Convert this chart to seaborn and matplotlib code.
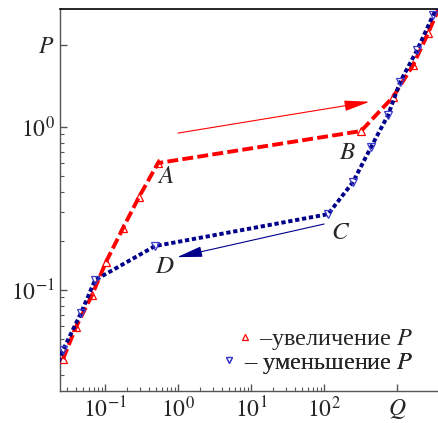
#%% import libraries
import numpy as np
import pandas as pd
import seaborn as sns
import matplotlib.pyplot as plt
from matplotlib.lines import Line2D
from matplotlib.ticker import FixedLocator, NullFormatter

#%% data
# increasing P (red, triangles up)
up_q = [0.0266, 0.0401, 0.0664, 0.1032, 0.1766, 0.292, 0.532, 321, 881, 1656, 2661, 3980]
up_p = [0.0377, 0.0593, 0.0931, 0.1486, 0.240, 0.372, 0.601, 0.945, 1.53, 2.40, 3.77, 5.75]

# decreasing P (blue, triangles down)
down_q = [0.0215, 0.0266, 0.0469, 0.0730, 0.484, 113.5, 249, 440, 753, 1099, 1880, 3113, 3900]
down_p = [0.0330, 0.0428, 0.0722, 0.115, 0.186, 0.292, 0.460, 0.754, 1.185, 1.89, 2.97, 4.86, 5.9]

# point labels
pt_names = ['A', 'B', 'C', 'D']
pt_q = [0.68, 210, 170, 0.66]
pt_p = [0.495, 0.69, 0.225, 0.138]

# arrows: start -> end
red_arrow = [(1.0, 0.918), (420, 1.43)]
blue_arrow = [(100, 0.254), (0.97, 0.159)]

xticks = [0.1, 1, 10, 100, 1000]
xtick_labels = ['$10^{-1}$', '$10^{0}$', '$10^{1}$', '$10^{2}$', '$Q$']
yticks = [0.1, 1, 3.2]
ytick_labels = ['$10^{-1}$', '$10^{0}$', r'$P\;\;\;\;$']

legend_labels = ['\u2013увеличение $P$', '\u2013 уменьшение $P$']

#%% style
sns.set_style('ticks')
plt.rcParams['font.family'] = ['Liberation Serif', 'DejaVu Serif']
plt.rcParams['mathtext.fontset'] = 'stix'

df_up = pd.DataFrame({'Q': up_q, 'P': up_p})
df_down = pd.DataFrame({'Q': down_q, 'P': down_p})

fig = plt.figure(figsize=(4.38, 4.23), dpi=100)
ax = fig.add_axes([60/438, 32/423, 378/438, 382/423])

red = '#ff0000'
navy = '#00008b'
blue_mk = '#3a3acc'

sns.lineplot(data=df_up, x='Q', y='P', sort=False, estimator=None, ax=ax,
             color=red, lw=2.8, linestyle=(0, (2.8, 1.1)),
             marker='^', markersize=5.5, markerfacecolor='none',
             markeredgecolor=red, markeredgewidth=0.9, zorder=3)
sns.lineplot(data=df_down, x='Q', y='P', sort=False, estimator=None, ax=ax,
             color=navy, lw=2.8, linestyle=(0, (1.1, 0.7)),
             marker='v', markersize=5.5, markerfacecolor='none',
             markeredgecolor=blue_mk, markeredgewidth=0.9, zorder=4)

ax.set_xscale('log')
ax.set_yscale('log')
ax.set_xlim(0.0242, 3630)
ax.set_ylim(0.024, 5.3)

#%% arrows and labels
arrow_style = '-|>,head_length=1.2,head_width=0.25'
ax.annotate('', xy=red_arrow[1], xytext=red_arrow[0],
            arrowprops=dict(arrowstyle=arrow_style, color=red, lw=0.8,
                            mutation_scale=13, shrinkA=0, shrinkB=0))
ax.annotate('', xy=blue_arrow[1], xytext=blue_arrow[0],
            arrowprops=dict(arrowstyle=arrow_style, color=navy, lw=0.8,
                            mutation_scale=13, shrinkA=0, shrinkB=0))

for name, q, p in zip(pt_names, pt_q, pt_p):
    ax.text(q, p, '$' + name + '$', fontsize=18, ha='center', va='center')

#%% axes
ax.set_xticks(xticks)
ax.set_xticklabels(xtick_labels)
ax.set_yticks(yticks)
ax.set_yticklabels(ytick_labels)
ax.xaxis.set_minor_locator(FixedLocator([k * 10.0**e for e in (-2, -1, 0, 1) for k in range(2, 10)]))
ax.yaxis.set_minor_locator(FixedLocator([k * 10.0**e for e in (-2, -1) for k in range(2, 10)]))
ax.xaxis.set_minor_formatter(NullFormatter())
ax.yaxis.set_minor_formatter(NullFormatter())
ax.tick_params(which='major', direction='in', length=5, width=1, color='#555555',
               labelsize=17, pad=4)
ax.tick_params(which='minor', direction='in', length=3, width=0.8, color='#555555')
ax.set_xlabel('')
ax.set_ylabel('')

for s in ['left', 'bottom']:
    ax.spines[s].set_color('#555555')
    ax.spines[s].set_linewidth(1)
ax.spines['top'].set_color('black')
ax.spines['top'].set_linewidth(1.2)
ax.spines['right'].set_visible(False)

# two one-entry legends so both lines end at the same right edge
leg_markers = [('^', red), ('v', blue_mk)]
leg_y = [0.134, 0.073]
for (mk, col), lab, y in zip(leg_markers, legend_labels, leg_y):
    h = Line2D([], [], ls='none', marker=mk, markersize=5, markerfacecolor='none',
               markeredgecolor=col, markeredgewidth=0.9)
    leg = ax.legend([h], [lab], loc='center right', bbox_to_anchor=(0.935, y),
                    frameon=False, fontsize=17.5, handlelength=0.6, handletextpad=0.3,
                    borderaxespad=0, borderpad=0)
    ax.add_artist(leg)

fig.savefig('out.png', dpi=100)
